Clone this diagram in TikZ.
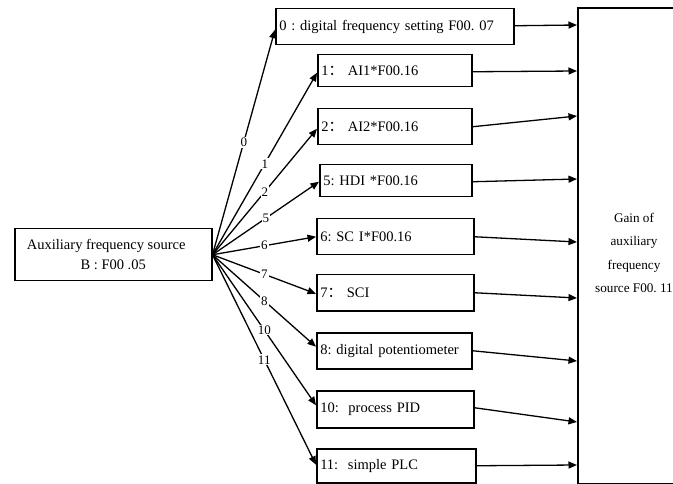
\documentclass[tikz,border=0pt]{standalone}
\usepackage{fontspec}
\setmainfont{Liberation Serif}
\newfontfamily\cjk{Noto Sans CJK SC}
\usetikzlibrary{arrows.meta}
\frenchspacing
\begin{document}
\begin{tikzpicture}[x=1pt,y=-1pt,
  bx/.style={draw, line width=1.5pt, rectangle, anchor=north west, inner xsep=3.5pt, inner ysep=0pt,
    font=\fontsize{14.5}{16}\selectfont, align=left},
  arr/.style={line width=1.3pt, -{Triangle[length=8.5pt,width=7pt]}},
  lab/.style={fill=white, inner sep=1pt, font=\fontsize{13}{14}\selectfont, pos=0.5},
  gaintxt/.style={align=center, font=\fontsize{13.2}{23.3}\selectfont}
]
\useasboundingbox (0,0) rectangle (673,484);
% source
\node[bx, minimum width=197pt, minimum height=52pt, align=center, font=\fontsize{14.5}{20}\selectfont] (src) at (14,228)
  {Auxiliary frequency source\kern14pt\\B : F00 .05};
% option boxes
\node[bx, minimum width=238pt, minimum height=36pt, text width=231pt] (b0) at (275,8) {0 : digital frequency setting F00. 07};
\node[bx, minimum width=154pt, minimum height=32pt, text width=147pt] (b1) at (317,54) {1{\cjk ：}\ AI1*F00.16};
\node[bx, minimum width=154pt, minimum height=36pt, text width=147pt] (b2) at (317,108) {2{\cjk ：}\ AI2*F00.16};
\node[bx, minimum width=152pt, minimum height=32pt, text width=145pt] (b5) at (319,164) {5: HDI *F00.16};
\node[bx, minimum width=157pt, minimum height=36pt, text width=150pt] (b6) at (316,218) {6: SC I*F00.16};
\node[bx, minimum width=157pt, minimum height=36pt, text width=150pt] (b7) at (316,274) {7{\cjk ：}\ SCI};
\node[bx, minimum width=155pt, minimum height=36pt, text width=148pt] (b8) at (316,332) {8: digital potentiometer};
\node[bx, minimum width=157pt, minimum height=37pt, text width=150pt] (b10) at (316,390) {10:\ \ process PID};
\node[bx, minimum width=159pt, minimum height=34pt, text width=152pt] (b11) at (316,448) {11:\ \ simple PLC};
% gain box: its right side lies beyond the picture's edge
\node[bx, draw=none, minimum width=130pt, minimum height=474pt] (gain) at (578,8) {};
\draw[line width=1.5pt] (gain.north east) -- (gain.north west) -- (gain.south west) -- (gain.south east);
\node[gaintxt] (gaintext) at (634,253) {Gain of\\auxiliary\\frequency\\source F00. 11};
% fan connectors
\draw[arr] (src.east) -- node[lab]{0} ([yshift=-3pt]b0.west);
\draw[arr] (src.east) -- node[lab]{1} ([yshift=-2pt]b1.west);
\draw[arr] (src.east) -- node[lab]{2} ([yshift=-2pt]b2.west);
\draw[arr] (src.east) -- node[lab]{5} ([yshift=-1pt]b5.west);
\draw[arr] (src.east) -- node[lab]{6} (b6.west);
\draw[arr] (src.east) -- node[lab]{7} ([yshift=-1pt]b7.west);
\draw[arr] (src.east) -- node[lab]{8} ([yshift=4pt]b8.west);
\draw[arr] (src.east) -- node[lab]{10} ([yshift=4pt]b10.west);
\draw[arr] (src.east) -- node[lab]{11} ([yshift=1pt]b11.west);
% right connectors
\coordinate (g0) at (577,25);
\coordinate (g1) at (577,71);
\coordinate (g2) at (577,116);
\coordinate (g5) at (577,179);
\coordinate (g6) at (577,242);
\coordinate (g7) at (577,298);
\coordinate (g8) at (577,361);
\coordinate (g10) at (577,422);
\coordinate (g11) at (577,465);
\draw[arr] ([yshift=1pt]b0.east) -- (g0);
\draw[arr] ([yshift=-1pt]b1.east) -- (g1);
\draw[arr] (b2.east) -- (g2);
\draw[arr] ([yshift=-1pt]b5.east) -- (g5);
\draw[arr] (b6.east) -- (g6);
\draw[arr] (b7.east) -- (g7);
\draw[arr] (b8.east) -- (g8);
\draw[arr] ([yshift=1.5pt]b10.east) -- (g10);
\draw[arr] (b11.east) -- (g11);
\end{tikzpicture}
\end{document}
